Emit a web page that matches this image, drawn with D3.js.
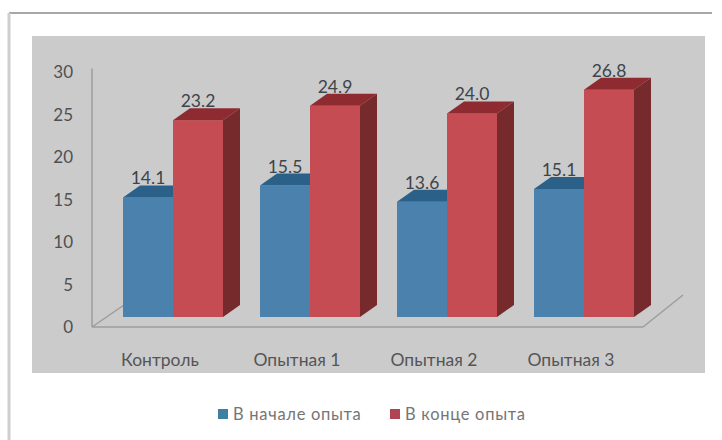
<!DOCTYPE html>
<html lang="ru">
<head>
<meta charset="utf-8">
<script src="https://cdn.jsdelivr.net/npm/d3@7/dist/d3.min.js"></script>
<style>
  html, body { margin: 0; padding: 0; background: #fff; }
  svg { display: block; }
  text { font-family: Lato, "Open Sans", sans-serif; }
</style>
</head>
<body>
<svg id="chart" width="722" height="440"></svg>
<script>
const categories = ["Контроль", "Опытная 1", "Опытная 2", "Опытная 3"];
const seriesNames = ["В начале опыта", "В конце опыта"];
const startValues = [14.1, 15.5, 13.6, 15.1];
const endValues = [23.2, 24.9, 24.0, 26.8];
const yTicks = [0, 5, 10, 15, 20, 25, 30];

const palette = [
  { front: "#4a82ad", top: "#2b6189", side: "#24506f", key: "#3f7f9f" },
  { front: "#c44c52", top: "#8e2b30", side: "#762a2c", key: "#b04453" }
];

const svg = d3.select("#chart");

// Chart frame: a dark rule on top, a pale rule at the left
svg.append("line").attr("x1", 9).attr("x2", 712).attr("y1", 13).attr("y2", 13)
  .attr("stroke", "#8a8a8a").attr("stroke-width", 1.5);
svg.append("line").attr("x1", 9).attr("x2", 9).attr("y1", 13).attr("y2", 440)
  .attr("stroke", "#cfcfcf").attr("stroke-width", 3);

// Plot background
svg.append("rect").attr("x", 32).attr("y", 36).attr("width", 673).attr("height", 337)
  .attr("fill", "#cbcbcb");

// The value axis sits on the front plane; bars stand further back
const depth = { dx: 17, dy: 12 };
const barLift = 10;
const y = d3.scaleLinear().domain([0, 30]).range([327, 72.5]);
const x0 = d3.scaleBand().domain(categories).range([123, 671]).paddingInner(0).paddingOuter(0);
const x1 = d3.scaleBand().domain(seriesNames).range([0, 100]);

const yAxis = d3.axisLeft(y).tickValues(yTicks).tickSize(0).tickPadding(0);
const axisG = svg.append("g").attr("transform", "translate(73,0)").call(yAxis);
axisG.select(".domain").remove();
axisG.selectAll("text").attr("font-size", 17).attr("fill", "#505050")
  .attr("font-family", "Lato, sans-serif");

// Floor and wall edges
const edge = "#9c9c9c";
const edges = [
  [92, y(30) - 4, 92, y(0)],
  [92, y(0), 643, y(0)],
  [92, y(0), 124, 305],
  [643, y(0), 683, 295]
];
svg.append("g").selectAll("line").data(edges).join("line")
  .attr("x1", d => d[0]).attr("y1", d => d[1])
  .attr("x2", d => d[2]).attr("y2", d => d[3])
  .attr("stroke", edge).attr("stroke-width", 1.5);

const series = [startValues, endValues];

series.forEach((values, s) => {
  const colors = palette[s];
  const g = svg.append("g").selectAll("g")
    .data(values.map((v, i) => ({ v, cat: categories[i] })))
    .join("g")
    .attr("transform", d => `translate(${x0(d.cat) + x1(seriesNames[s])},${-barLift})`);
  const w = x1.bandwidth();

  g.append("rect")
    .attr("width", w).attr("y", d => y(d.v)).attr("height", d => y(0) - y(d.v))
    .attr("fill", colors.front);

  g.append("path")
    .attr("fill", colors.top)
    .attr("d", d => `M0,${y(d.v)}L${depth.dx},${y(d.v) - depth.dy}L${w + depth.dx},${y(d.v) - depth.dy}L${w},${y(d.v)}Z`);

  g.append("path")
    .attr("fill", colors.side)
    .attr("d", d => `M${w},${y(d.v)}L${w + depth.dx},${y(d.v) - depth.dy}L${w + depth.dx},${y(0) - depth.dy}L${w},${y(0)}Z`);
});

// Value labels, drawn after every bar so none gets covered
series.forEach((values, s) => {
  svg.append("g").selectAll("text").data(values).join("text")
    .attr("x", (d, i) => x0(categories[i]) + x1(seriesNames[s]) + x1.bandwidth() / 2)
    .attr("y", d => y(d) - barLift - 13)
    .attr("text-anchor", "middle")
    .attr("font-size", 17.5)
    .attr("fill", "#3c444c")
    .text(d => d.toFixed(1));
});

// Category labels
svg.append("g").selectAll("text").data(categories).join("text")
  .attr("x", d => x0(d) + 37)
  .attr("y", 366)
  .attr("text-anchor", "middle")
  .attr("font-size", 17.5)
  .attr("fill", "#555")
  .text(d => d);

// Legend
const legendX = [218, 390];
const legend = svg.append("g").selectAll("g").data(seriesNames).join("g")
  .attr("transform", (d, i) => `translate(${legendX[i]},409)`);
legend.append("rect").attr("width", 10).attr("height", 10)
  .attr("fill", (d, i) => palette[i].key);
legend.append("text").attr("x", 15).attr("y", 10.5)
  .attr("font-size", 16.5).attr("letter-spacing", 0.7).attr("fill", "#757575").text(d => d);
</script>
</body>
</html>
